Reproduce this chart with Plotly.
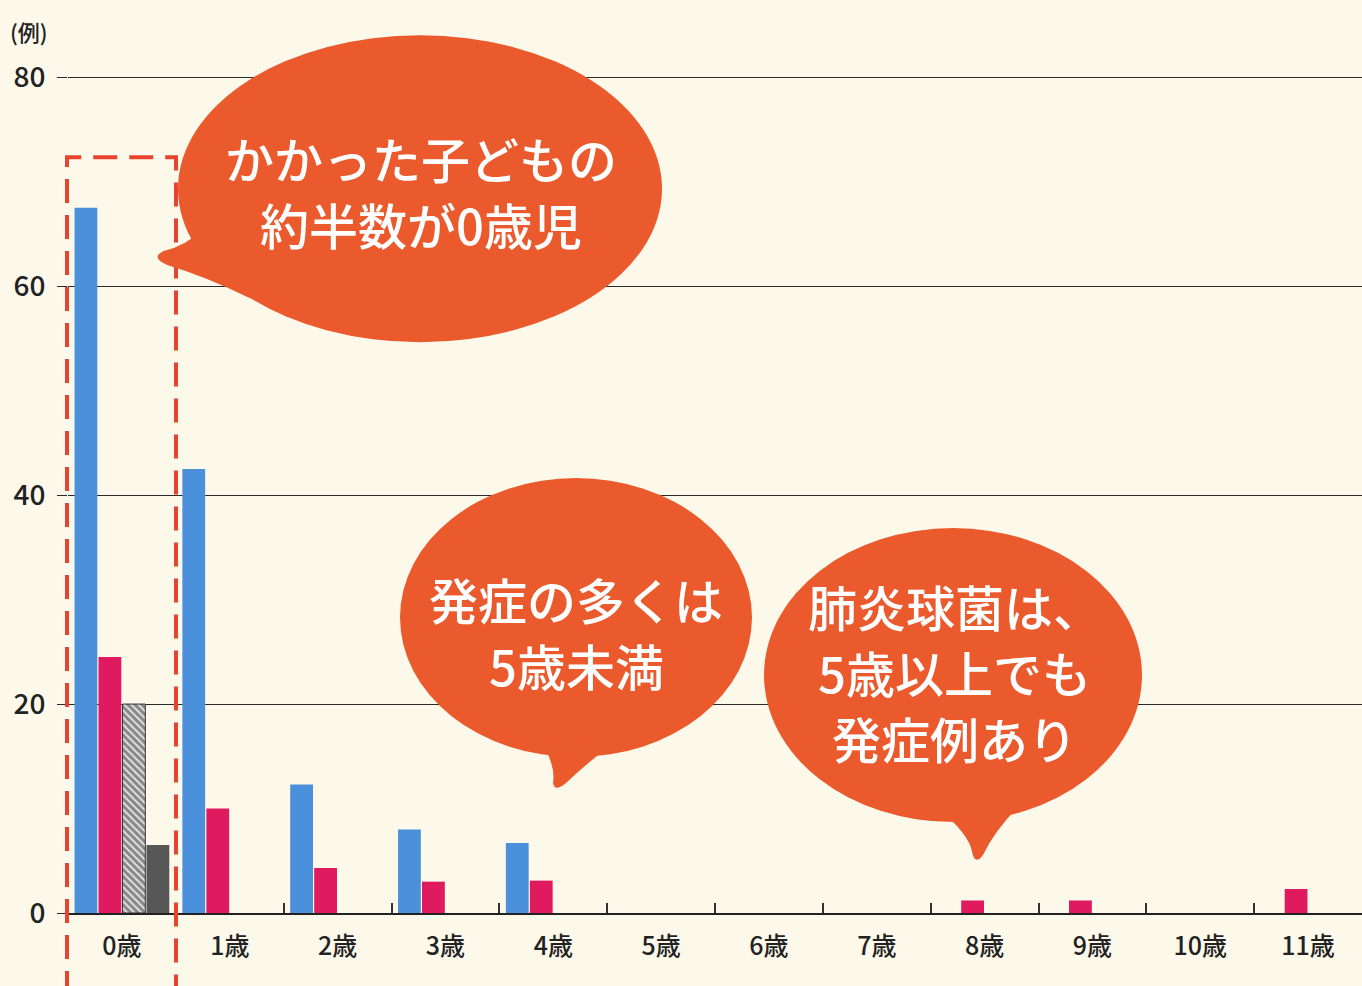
import plotly.graph_objects as go

categories = ["0歳", "1歳", "2歳", "3歳", "4歳", "5歳", "6歳", "7歳", "8歳", "9歳", "10歳", "11歳"]
series_blue = [67.5, 42.5, 12.3, 8.0, 6.7, None, None, None, None, None, None, None]
series_pink = [24.5, 10.0, 4.3, 3.0, 3.1, None, None, None, 1.2, 1.2, None, 2.3]
series_hatch = [20.0, None, None, None, None, None, None, None, None, None, None, None]
series_dark = [6.5, None, None, None, None, None, None, None, None, None, None, None]
y_ticks = [0, 20, 40, 60, 80]

bubble_lines = [
    ["かかった子どもの", "約半数が0歳児"],
    ["発症の多くは", "5歳未満"],
    ["肺炎球菌は、", "5歳以上でも", "発症例あり"],
]

BG = "#FCF9EA"
ORANGE = "#EB5A2D"
RED_DASH = "#E8432E"
FONT = "Noto Sans CJK JP"

# plot area in pixels (y range 0..80.5 so the 80 gridline is drawn)
Y_TOP = 80.5
L, R, B = 68, 1362, 913
T = B - (B - 77) * Y_TOP / 80.0


def fx(p):
    return (p - L) / (R - L)


def fy(p):
    return (B - p) / (B - T)


fig = go.Figure()
fig.add_trace(go.Bar(x=categories, y=series_blue, marker=dict(color="#4A90DA", line=dict(width=0))))
fig.add_trace(go.Bar(x=categories, y=series_pink, marker=dict(color="#E01A5F", line=dict(width=0))))
fig.add_trace(go.Bar(x=categories, y=series_hatch,
                     marker=dict(color="#E6E6E6", line=dict(width=1, color="#333333"),
                                 pattern=dict(shape="\\", fgcolor="#2A2A2A", bgcolor="#E6E6E6",
                                              size=5, solidity=0.65))))
fig.add_trace(go.Bar(x=categories, y=series_dark, marker=dict(color="#575757", line=dict(width=0))))

shapes = []

# dashed box around 0歳
lx, rx_, ty, by = fx(67), fx(176), fy(157), fy(995)
shapes.append(dict(type="path", xref="paper", yref="paper",
                   path=f"M {lx},{by} L {lx},{ty} L {rx_},{ty} L {rx_},{by}",
                   line=dict(color=RED_DASH, width=4, dash="24px,12px"), layer="above"))


def bubble(ex0, ey0, ex1, ey1, tail):
    shapes.append(dict(type="circle", xref="paper", yref="paper",
                       x0=fx(ex0), x1=fx(ex1), y0=fy(ey1), y1=fy(ey0),
                       fillcolor=ORANGE, line=dict(width=0), layer="above"))
    parts = []
    for cmd, *coords in tail:
        c = []
        for j in range(0, len(coords), 2):
            c.append(f"{fx(coords[j])},{fy(coords[j + 1])}")
        parts.append(cmd + " " + " ".join(c))
    shapes.append(dict(type="path", xref="paper", yref="paper", path=" ".join(parts) + " Z",
                       fillcolor=ORANGE, line=dict(width=0), layer="above"))


bubble(178, 35, 662, 342, [("M", 205, 228), ("Q", 185, 246, 163, 251), ("Q", 150, 258, 168, 265),
                           ("Q", 205, 276, 250, 298)])
bubble(400, 478, 752, 757, [("M", 540, 740), ("Q", 556, 765, 553, 782), ("Q", 554, 793, 566, 783),
                            ("Q", 588, 762, 615, 742)])
bubble(764, 528, 1142, 822, [("M", 935, 805), ("Q", 970, 835, 972, 852), ("Q", 975, 866, 983, 855),
                             ("Q", 995, 830, 1020, 805)])

annotations = []
line_step = 66
for lines, cx, cy in zip(bubble_lines, [421, 576, 955], [190, 631, 671]):
    n = len(lines)
    for i, txt in enumerate(lines):
        yy = cy + (i - (n - 1) / 2) * line_step
        annotations.append(dict(text=txt, xref="paper", yref="paper", x=fx(cx), y=fy(yy),
                                showarrow=False, xanchor="center", yanchor="middle", align="center",
                                font=dict(family=FONT, size=49, color="white", weight=500)))
annotations.append(dict(text="(例)", xref="paper", yref="paper", x=fx(8), y=fy(31),
                        showarrow=False, xanchor="left", yanchor="middle",
                        font=dict(family=FONT, size=22, color="#222222", weight=500)))

fig.update_layout(
    width=1362, height=986,
    margin=dict(l=L, r=1362 - R, t=T, b=986 - B, pad=0),
    paper_bgcolor=BG, plot_bgcolor=BG,
    barmode="group", bargap=0.11, bargroupgap=0.05,
    showlegend=False,
    shapes=shapes, annotations=annotations,
    font=dict(family=FONT, color="#222222"),
)
fig.update_xaxes(type="category", range=[-0.5, 11.5], tickson="boundaries", ticks="inside",
                 ticklen=10, tickwidth=2, tickcolor="#333333", showline=True, linecolor="#222222",
                 linewidth=2, showgrid=False,
                 tickfont=dict(family=FONT, size=25, color="#222222", weight=500),
                 ticklabelstandoff=10)
fig.update_yaxes(range=[0, Y_TOP], tickvals=y_ticks, showgrid=True, gridcolor="#2A2A2A", gridwidth=1.3,
                 zeroline=False, ticks="outside", ticklen=10, tickcolor="#2A2A2A", tickwidth=1.3,
                 tickfont=dict(family=FONT, size=28, color="#222222", weight=500), showline=False,
                 ticklabelstandoff=6)

fig.write_html("out.html", config={"displayModeBar": False})

# remove the browser's default page margin so the figure sits at the top-left corner
with open("out.html", "r", encoding="utf-8") as f:
    html = f.read()
html = html.replace("<head>", "<head><style>html,body{margin:0;padding:0;}</style>", 1)
with open("out.html", "w", encoding="utf-8") as f:
    f.write(html)
